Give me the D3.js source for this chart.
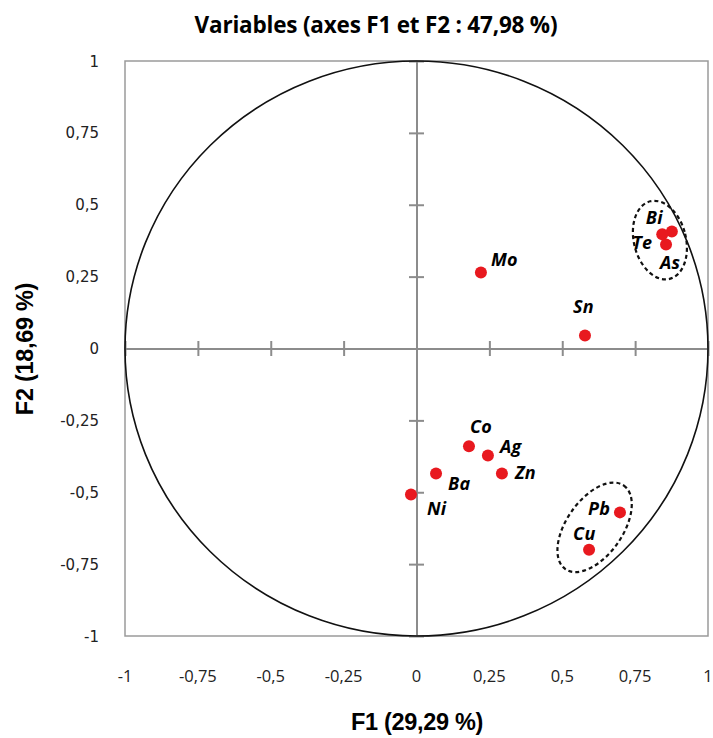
<!DOCTYPE html>
<html><head><meta charset="utf-8">
<script src="https://cdn.jsdelivr.net/npm/d3@7"></script>
<style>body{margin:0;background:#fff}</style>
</head><body>
<svg id="chart" width="713" height="738"></svg>
<script>
const variables = ["Mo","Sn","Bi","Te","As","Co","Ag","Zn","Ba","Ni","Pb","Cu"];
const f1Values = [0.221, 0.578, 0.876, 0.843, 0.856, 0.180, 0.245, 0.293, 0.067, -0.019, 0.698, 0.592];
const f2Values = [0.264, 0.045, 0.407, 0.397, 0.362, -0.340, -0.372, -0.435, -0.435, -0.508, -0.570, -0.700];
// label offsets in pixels (dx, dy) relative to point
const labelDx = [10, -12, -26, -30, -6, 1, 12, 13, 12, 16, -32, -16];
const labelDy = [-7, -23, -7, 15, 25, -13, -2, 5, 16, 20, 3, -10];
const tickValues = [-1, -0.75, -0.5, -0.25, 0, 0.25, 0.5, 0.75, 1];
const tickLabels = ["-1","-0,75","-0,5","-0,25","0","0,25","0,5","0,75","1"];
const groupCenterX = [0.835, 0.611];
const groupCenterY = [0.377, -0.622];

const svg = d3.select("#chart");
const x = d3.scaleLinear().domain([-1, 1]).range([125, 708]);
const y = d3.scaleLinear().domain([-1, 1]).range([636, 61]);

svg.append("text").attr("x", 376).attr("y", 33).attr("text-anchor","middle")
  .attr("font-family","'Open Sans', sans-serif").attr("font-weight","bold").attr("font-size",22.5)
  .attr("letter-spacing","-0.2").text("Variables (axes F1 et F2 : 47,98 %)");

// plot box
svg.append("rect").attr("x", x(-1)).attr("y", y(1)).attr("width", x(1)-x(-1)).attr("height", y(-1)-y(1))
  .attr("fill","none").attr("stroke","#9a9a9a").attr("stroke-width",1.5);

// axes through origin
const xAxis = d3.axisBottom(x).tickValues(tickValues).tickSizeInner(7).tickSizeOuter(0).tickFormat("");
const gx = svg.append("g").attr("transform",`translate(0,${y(0)})`).call(xAxis);
gx.selectAll(".tick line").attr("y1",-7.5).attr("y2",7.5);
const yAxis = d3.axisLeft(y).tickValues(tickValues).tickSizeInner(7).tickSizeOuter(0).tickFormat("");
const gy = svg.append("g").attr("transform",`translate(${x(0)},0)`).call(yAxis);
gy.selectAll(".tick line").attr("x1",-7.5).attr("x2",7.5);
svg.selectAll(".domain, .tick line").attr("stroke","#8c8c8c").attr("stroke-width",2);

// tick labels
svg.append("g").selectAll("text").data(tickValues).join("text")
  .attr("x", d => x(d)).attr("y", 682).attr("text-anchor","middle")
  .attr("font-family","'Open Sans', sans-serif").attr("font-size",16.5).attr("fill","#222")
  .text((d,i) => tickLabels[i]);
svg.append("g").selectAll("text").data(tickValues).join("text")
  .attr("x", 99).attr("y", d => y(d)+5.5).attr("text-anchor","end")
  .attr("font-family","'DejaVu Sans', sans-serif").attr("font-size",15).attr("fill","#222")
  .text((d,i) => tickLabels[i]);

// correlation circle
svg.append("ellipse").attr("cx", x(0)).attr("cy", y(0)).attr("rx", x(1)-x(0)).attr("ry", y(-1)-y(0))
  .attr("fill","none").attr("stroke","#111").attr("stroke-width",1.6);

// dashed group ellipses
svg.append("ellipse").attr("transform",`translate(${x(groupCenterX[0])},${y(groupCenterY[0])}) rotate(-14)`)
  .attr("rx",26).attr("ry",40).attr("fill","none").attr("stroke","#111").attr("stroke-width",2.2).attr("stroke-dasharray","4,3");
svg.append("ellipse").attr("transform",`translate(${x(groupCenterX[1])},${y(groupCenterY[1])}) rotate(-55)`)
  .attr("rx",51).attr("ry",28).attr("fill","none").attr("stroke","#111").attr("stroke-width",2.2).attr("stroke-dasharray","4,3");

// points
const pts = variables.map((v,i) => ({name:v, f1:f1Values[i], f2:f2Values[i], dx:labelDx[i], dy:labelDy[i]}));
svg.append("g").selectAll("circle").data(pts).join("circle")
  .attr("cx", d => x(d.f1)).attr("cy", d => y(d.f2)).attr("r", 6).attr("fill","#e8191f");
svg.append("g").selectAll("text").data(pts).join("text")
  .attr("x", d => x(d.f1)+d.dx).attr("y", d => y(d.f2)+d.dy)
  .attr("font-family","'Open Sans', sans-serif").attr("font-weight","bold").attr("font-style","italic")
  .attr("font-size",18).attr("letter-spacing","0.3").text(d => d.name);

// axis titles
svg.append("text").attr("x", 417).attr("y", 730).attr("text-anchor","middle")
  .attr("font-family","'Liberation Sans', Arial, sans-serif").attr("font-weight","bold").attr("font-size",23.5)
  .attr("letter-spacing","-0.3").text("F1 (29,29 %)");
svg.append("text").attr("transform","translate(33,349) rotate(-90)").attr("text-anchor","middle")
  .attr("font-family","'Liberation Sans', Arial, sans-serif").attr("font-weight","bold").attr("font-size",23.5)
  .attr("letter-spacing","-0.3").text("F2 (18,69 %)");
</script>
</body></html>
